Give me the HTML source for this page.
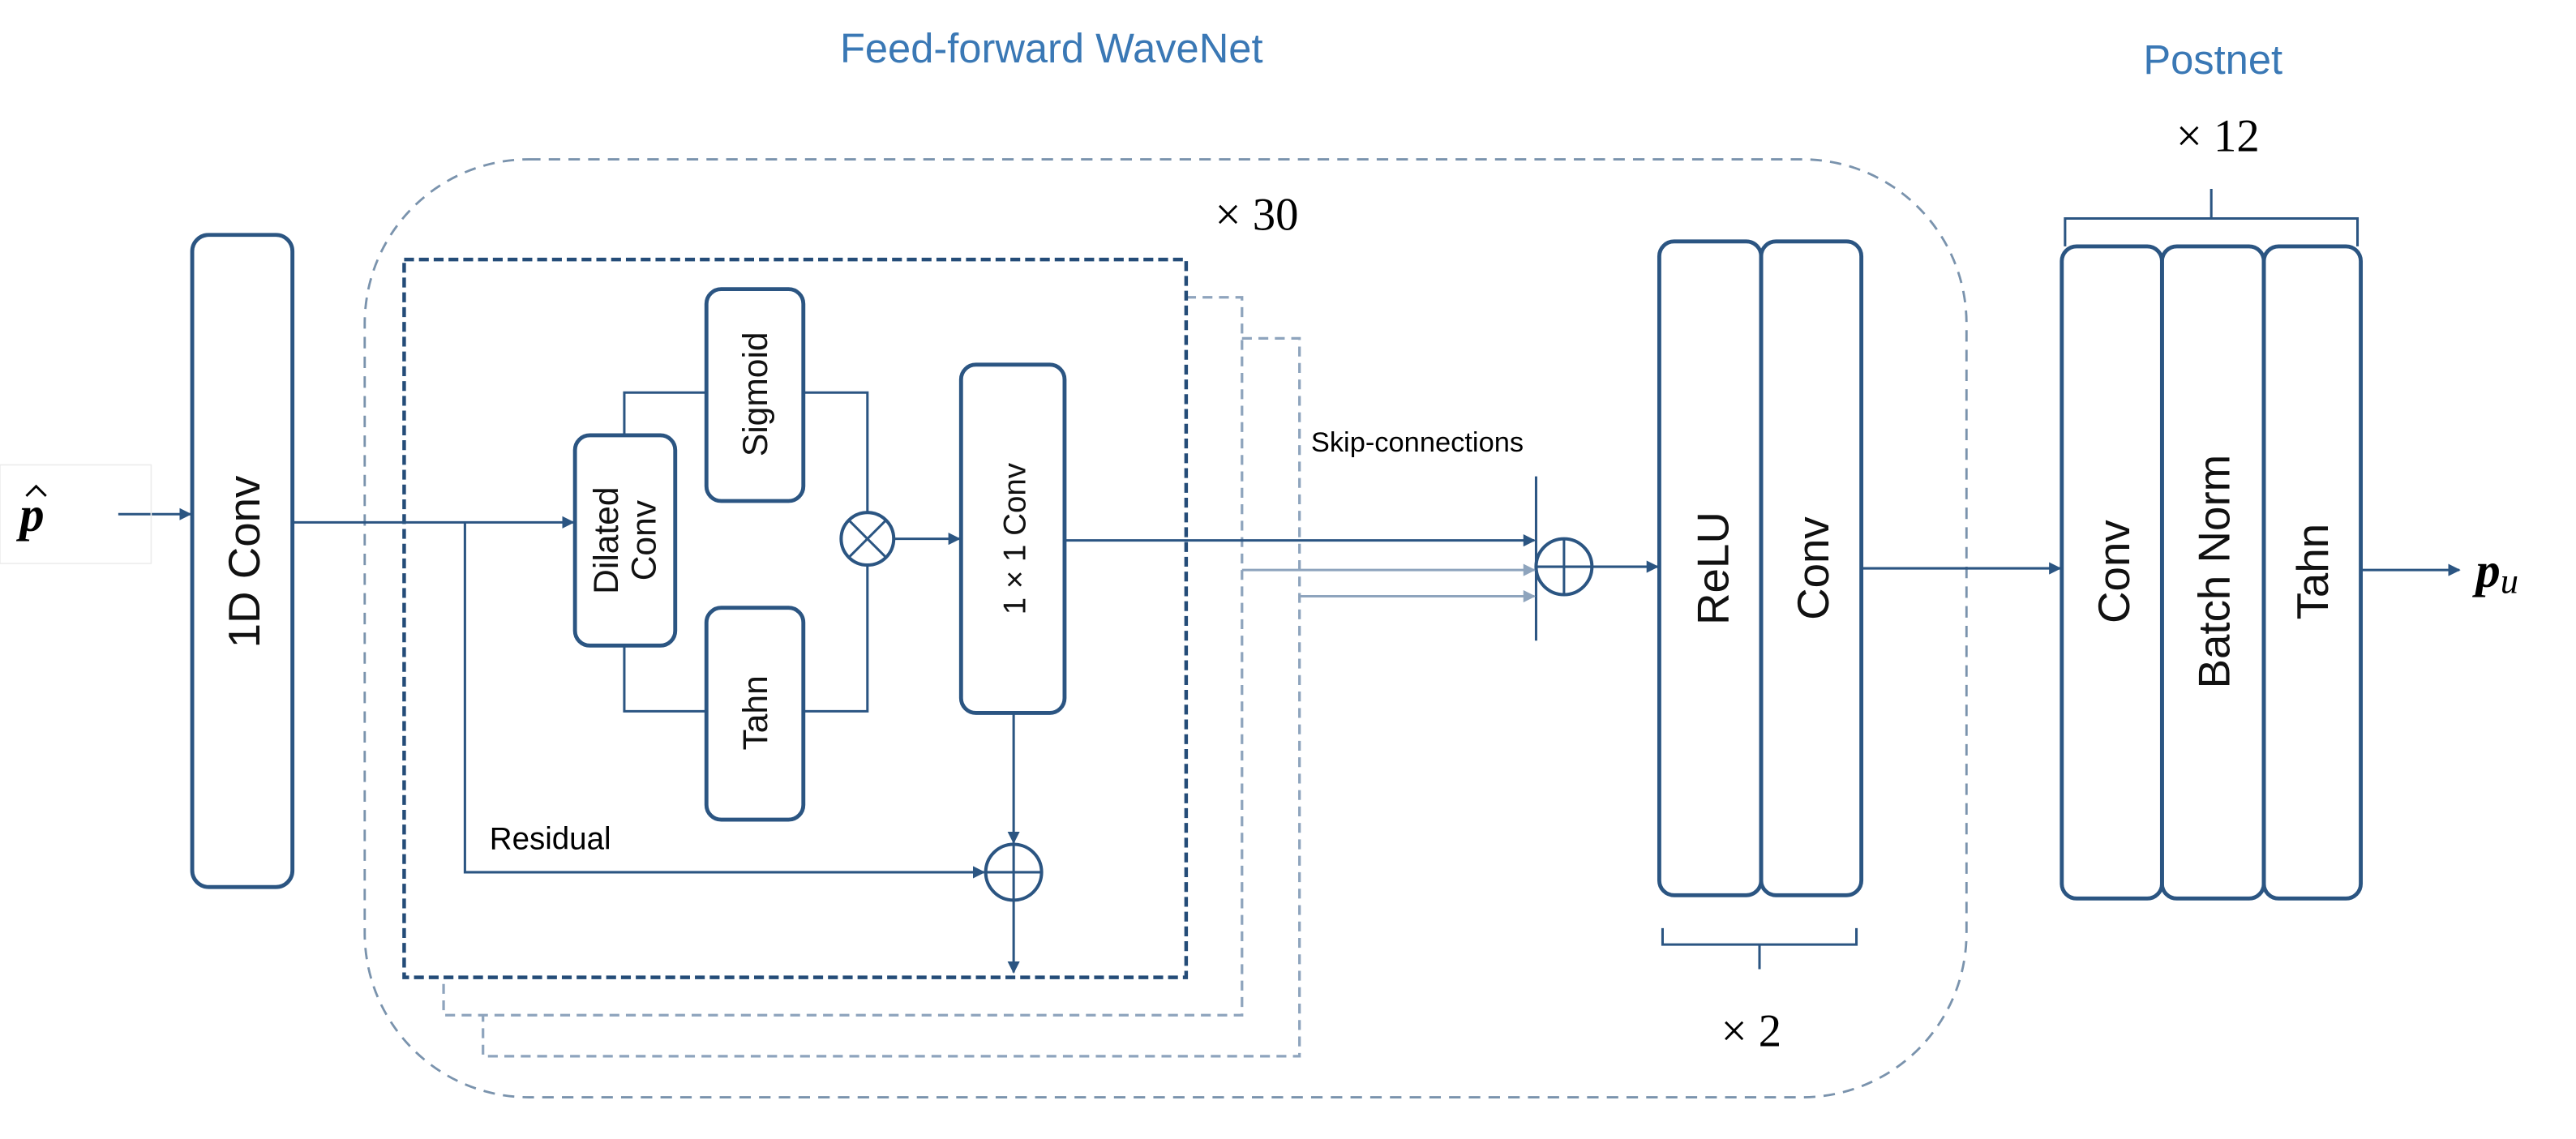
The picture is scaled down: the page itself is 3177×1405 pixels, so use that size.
<!DOCTYPE html>
<html><head><meta charset="utf-8"><style>html,body{margin:0;padding:0;background:#fff}svg{display:block}</style></head>
<body>
<svg width="3177" height="1405" viewBox="0 0 1568 693.4" preserveAspectRatio="none" xmlns="http://www.w3.org/2000/svg" font-family="Liberation Sans, DejaVu Sans, sans-serif">
<defs>
<marker id="a" viewBox="0 0 10 10" refX="9" refY="5" markerWidth="5" markerHeight="5" orient="auto"><path d="M0,0 L10,5 L0,10 z" fill="#2b5582"/></marker>
<marker id="b" viewBox="0 0 10 10" refX="9" refY="5" markerWidth="5" markerHeight="5" orient="auto"><path d="M0,0 L10,5 L0,10 z" fill="#8ea4bd"/></marker>
</defs>
<text x="640" y="38" font-size="25" fill="#3a78b5" text-anchor="middle">Feed-forward WaveNet</text>
<text x="1347" y="45" font-size="25" fill="#3a78b5" text-anchor="middle">Postnet</text>
<text x="765" y="140" font-size="28" font-family="Liberation Serif, serif" text-anchor="middle">× 30</text>
<text x="1350" y="92" font-size="28" font-family="Liberation Serif, serif" text-anchor="middle">× 12</text>
<text x="1066" y="637" font-size="28" font-family="Liberation Serif, serif" text-anchor="middle">× 2</text>

<rect x="222" y="97" width="975" height="571" rx="100" fill="none" stroke="#7a93ad" stroke-width="1.4" stroke-dasharray="7,5"/>
<path d="M722,181 H756 V618 H270 V595" fill="none" stroke="#8ea4bd" stroke-width="1.6" stroke-dasharray="6,4"/>
<path d="M756,206 H791 V643 H294 V618" fill="none" stroke="#8ea4bd" stroke-width="1.6" stroke-dasharray="6,4"/>
<rect x="246" y="158" width="476" height="437" fill="none" stroke="#244c78" stroke-width="2.2" stroke-dasharray="6,3"/>

<g fill="none" stroke="#2b5582" stroke-width="2.4">
<rect x="117" y="143" width="61" height="397" rx="10"/>
<rect x="350" y="265" width="61" height="128" rx="9"/>
<rect x="430" y="176" width="59" height="129" rx="9"/>
<rect x="430" y="370" width="59" height="129" rx="9"/>
<rect x="585" y="222" width="63" height="212" rx="9"/>
<rect x="1010" y="147" width="62" height="398" rx="9"/>
<rect x="1072" y="147" width="61" height="398" rx="9"/>
<rect x="1255" y="150" width="61" height="397" rx="9"/>
<rect x="1316" y="150" width="62" height="397" rx="9"/>
<rect x="1378" y="150" width="59" height="397" rx="9"/>
</g>
<g fill="none" stroke="#2b5582" stroke-width="1.5">
<line x1="72" y1="313" x2="116" y2="313" marker-end="url(#a)"/>
<line x1="178" y1="318" x2="349" y2="318" marker-end="url(#a)"/>
<polyline points="283,318 283,531 599,531" marker-end="url(#a)"/>
<polyline points="380,265 380,239 430,239"/>
<polyline points="489,239 528,239 528,312"/>
<polyline points="380,393 380,433 430,433"/>
<polyline points="489,433 528,433 528,344"/>
<circle cx="528" cy="328" r="16" stroke-width="2"/>
<line x1="517" y1="317" x2="539" y2="339"/><line x1="539" y1="317" x2="517" y2="339"/>
<line x1="544" y1="328" x2="584" y2="328" marker-end="url(#a)"/>
<line x1="617" y1="434" x2="617" y2="513" marker-end="url(#a)"/>
<circle cx="617" cy="531" r="17" stroke-width="2"/>
<line x1="600" y1="531" x2="634" y2="531"/><line x1="617" y1="514" x2="617" y2="548"/>
<line x1="617" y1="548" x2="617" y2="592" marker-end="url(#a)"/>
<line x1="648" y1="329" x2="934" y2="329" marker-end="url(#a)"/>
<line x1="935" y1="290" x2="935" y2="390"/>
<circle cx="952" cy="345" r="17" stroke-width="2"/>
<line x1="935" y1="345" x2="969" y2="345"/><line x1="952" y1="328" x2="952" y2="362"/>
<line x1="969" y1="345" x2="1009" y2="345" marker-end="url(#a)"/>
<line x1="1133" y1="346" x2="1254" y2="346" marker-end="url(#a)"/>
<line x1="1437" y1="347" x2="1497" y2="347" marker-end="url(#a)"/>
<path d="M1012,565 V575 H1130 V565 M1071,575 V590"/>
<path d="M1257,150 V133 H1435 V150 M1346,133 V115"/>
</g>
<g fill="none" stroke="#8ea4bd" stroke-width="1.5">
<line x1="756" y1="347" x2="934" y2="347" marker-end="url(#b)"/>
<line x1="791" y1="363" x2="934" y2="363" marker-end="url(#b)"/>
</g>
<rect x="0" y="283" width="92" height="60" fill="none" stroke="#ececec" stroke-width="0.8"/>
<text x="798" y="275" font-size="17">Skip-connections</text>
<text x="298" y="517" font-size="19">Residual</text>
<text x="12" y="323" font-size="30" font-weight="bold" font-style="italic" font-family="Liberation Serif, serif">p</text>
<path d="M16,302 L22,296 L28,302" fill="none" stroke="#000" stroke-width="1.4"/>
<text x="1507" y="357" font-size="30" font-weight="bold" font-style="italic" font-family="Liberation Serif, serif">p<tspan font-size="22" font-weight="normal" dy="4">u</tspan></text>
<g font-size="27" text-anchor="middle" fill="#111">
<text transform="translate(158,342) rotate(-90)">1D Conv</text>
<text transform="translate(1052,346) rotate(-90)">ReLU</text>
<text transform="translate(1113,346) rotate(-90)">Conv</text>
<text transform="translate(1296,348) rotate(-90)">Conv</text>
<text transform="translate(1357,348) rotate(-90)">Batch Norm</text>
<text transform="translate(1417,348) rotate(-90)">Tahn</text>
</g>
<g font-size="21" text-anchor="middle" fill="#111">
<text transform="translate(376,329) rotate(-90)">Dilated</text>
<text transform="translate(399,329) rotate(-90)">Conv</text>
<text transform="translate(467,240) rotate(-90)">Sigmoid</text>
<text transform="translate(467,434) rotate(-90)">Tahn</text>
<text transform="translate(624,328) rotate(-90)" font-size="19">1 × 1 Conv</text>
</g>
</svg>
</body></html>
